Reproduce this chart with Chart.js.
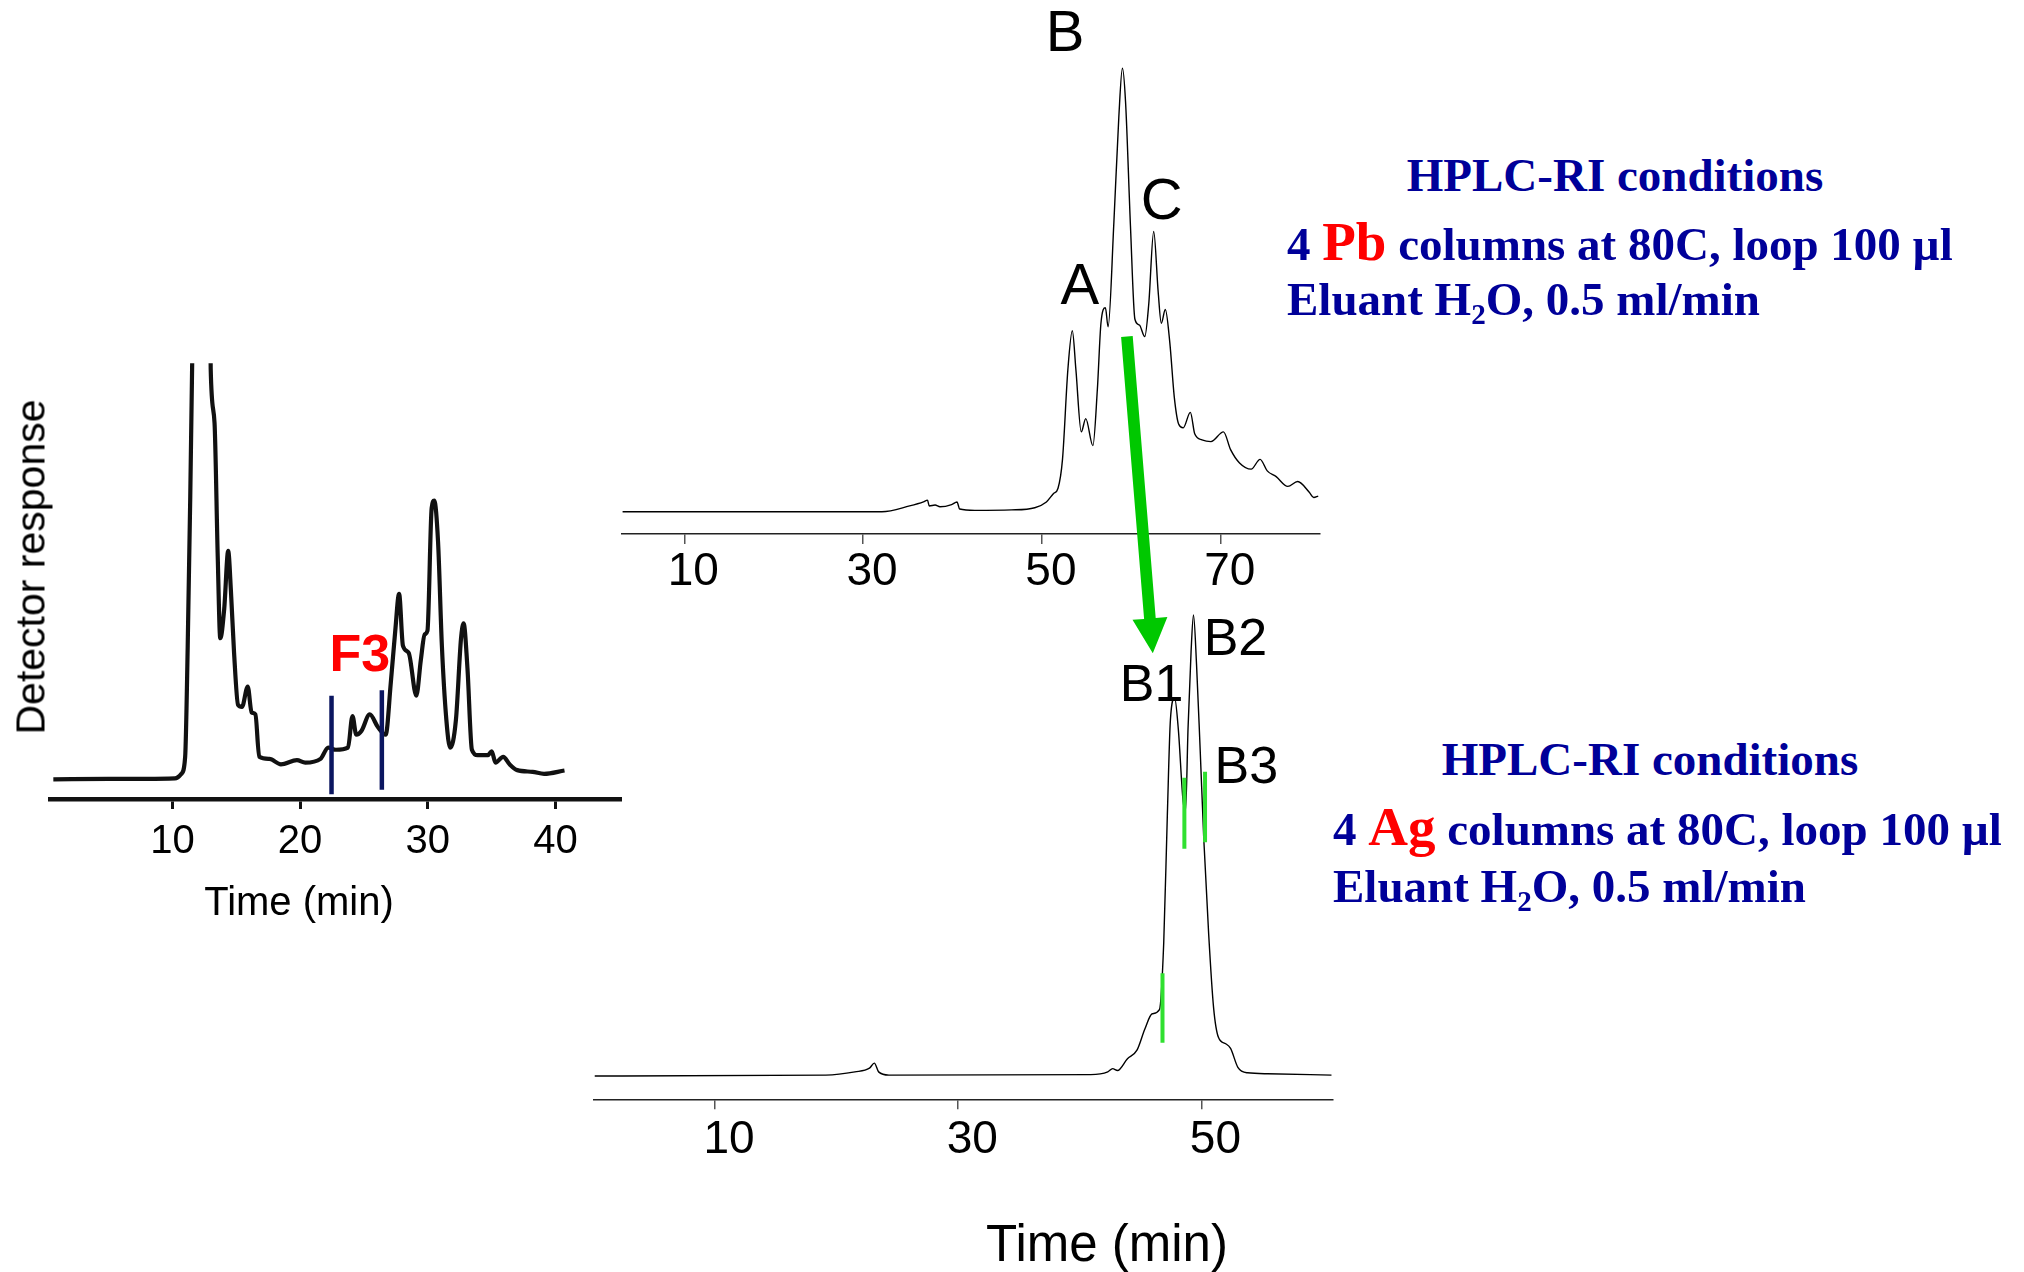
<!DOCTYPE html>
<html>
<head>
<meta charset="utf-8">
<title>HPLC-RI fractionation of F3</title>
<script src="https://cdn.jsdelivr.net/npm/chart.js@4.4.1/dist/chart.umd.min.js"></script>
<style>
  html, body { margin: 0; background: #fff; }
  #page { position: relative; width: 2024px; height: 1272px; overflow: hidden; }
  canvas { position: absolute; }
  .caption { position: absolute; font-family: "Liberation Sans", Arial, sans-serif; color: #000; line-height: 1; white-space: nowrap; }
  .cond { position: absolute; font: bold 47px "Liberation Serif", "Times New Roman", serif; color: #000099; line-height: 1; white-space: nowrap; }
  .cond .metal { color: #ff0000; font-size: 55px; line-height: 0; }
  .cond .sub { font-size: 0.62em; position: relative; top: 0.3em; line-height: 0; }
  #transfer { position: absolute; left: 0; top: 0; pointer-events: none; }
</style>
</head>
<body>
<div id="page">
  <canvas id="fracChart" width="640" height="560" style="left:0;top:330px"></canvas>
  <canvas id="pbChart" width="740" height="600" style="left:600px;top:0"></canvas>
  <canvas id="agChart" width="780" height="620" style="left:570px;top:560px"></canvas>

  <div class="caption" style="left:31px;top:567px;font-size:41px;transform:translate(-50%,-50%) rotate(-90deg)">Detector response</div>
  <div class="caption" style="left:299px;top:881px;font-size:40px;transform:translateX(-50%)">Time (min)</div>
  <div class="caption" style="left:1107px;top:1218px;font-size:51px;transform:translateX(-50%)">Time (min)</div>

  <div class="cond" style="left:1615px;top:152px;transform:translateX(-50%)">HPLC-RI conditions</div>
  <div class="cond" style="left:1287px;top:221px">4 <span class="metal">Pb</span> columns at 80C, loop 100 µl</div>
  <div class="cond" style="left:1287px;top:276px">Eluant H<span class="sub">2</span>O, 0.5 ml/min</div>

  <div class="cond" style="left:1650px;top:736px;transform:translateX(-50%)">HPLC-RI conditions</div>
  <div class="cond" style="left:1333px;top:806px">4 <span class="metal">Ag</span> columns at 80C, loop 100 µl</div>
  <div class="cond" style="left:1333px;top:863px">Eluant H<span class="sub">2</span>O, 0.5 ml/min</div>

  <svg id="transfer" width="2024" height="1272"><polygon id="transferArrow" fill="#00c800"></polygon></svg>
</div>

<script>
// ── Data ────────────────────────────────────────────────────
// Fractionation run (F3 cut between the navy markers)
const fracTime   = [0.68, 5, 8, 10.2, 10.7, 11.0, 11.2, 11.4, 11.55, 11.75, 12.3, 12.85, 13.0, 13.3, 13.55, 13.75,
                    14.06, 14.37, 14.58, 14.83, 15.14, 15.45, 15.9, 16.2, 16.5, 16.8, 17.6, 18.5, 19.75, 20.4, 21.6,
                    22.2, 22.8, 23.75, 24.1, 24.4, 24.8, 25.45, 26.1, 26.7, 27.1, 27.45, 27.75, 28.05, 28.5, 29.1,
                    29.45, 29.75, 29.97, 30.3, 30.5, 30.8, 31.1, 31.45, 31.75, 32.2, 32.6, 32.8, 33.1, 33.45, 33.9,
                    34.7, 35.0, 35.3, 35.9, 36.4, 37.0, 38.2, 39.1, 40.7];
const fracSignal = [0, 0.1, 0.1, 0.2, 1.3, 5.4, 32, 68, 100, 150, 180, 150, 98.7, 85.7, 53.6, 33.9,
                    41, 54.9, 45.5, 30.4, 17.9, 17.4, 22.3, 16.1, 15.6, 5.4, 4.9, 3.6, 4.6, 4, 4.9,
                    7.6, 7.1, 7.6, 15.2, 10.7, 11.6, 15.6, 12.5, 10.7, 23.2, 35.7, 44.6, 32.1, 30.4, 20.1,
                    28.6, 34.8, 35.7, 65.2, 67, 57.1, 32.1, 14.3, 7.6, 14.3, 33.9, 37.5, 26.8, 7.1, 5.8,
                    5.8, 6.7, 4, 5.4, 3.6, 2.2, 1.8, 1.3, 2.1];
const fracTicks   = [10, 20, 30, 40];
const fracCutTime = [22.46, 26.4];
const fracCutLow  = [-3.6, -2.5];
const fracCutHigh = [20.1, 21.4];
const fracLabel   = ['F3'];
const fracLabelAt = [24.67];
const fracLabelLv = [29.5];

// Pb column run of F3
const pbTime   = [3.1, 32.1, 35.2, 36.75, 37.2, 37.4, 38.05, 38.6, 39.9, 40.5, 40.8, 42.5, 46.6, 49.2, 50.5, 51.3,
                  51.8, 52.3, 52.9, 53.4, 53.8, 54.4, 54.9, 55.7, 56.2, 56.6, 57.1, 57.4, 58.05, 58.6, 59.0, 59.35,
                  59.9, 60.4, 60.9, 61.5, 61.95, 62.5, 63.0, 63.35, 63.8, 64.3, 64.8, 65.3, 65.8, 66.6, 67.1, 67.9,
                  68.9, 70.3, 71.1, 72.1, 73.4, 74.4, 75.2, 76.2, 77.5, 78.6, 79.9, 80.4, 80.9];
const pbSignal = [0, 0, 1.3, 2.2, 2.6, 1.3, 1.5, 1.1, 1.6, 2.2, 0.6, 0.3, 0.4, 0.9, 2.2, 4.1,
                  5.3, 11.8, 32, 40.8, 32, 18, 21, 14.9, 27.6, 42.5, 46, 41.7, 65.4, 89, 100, 92.5,
                  64.5, 43.4, 42.1, 39.5, 46.9, 63.2, 49.6, 42.5, 45.6, 38.2, 25.9, 19.7, 18.9, 22.4, 17.5, 16.2,
                  15.8, 18, 14, 11, 9.6, 11.8, 9.2, 7.9, 5.7, 6.8, 4.4, 3.2, 3.5];
const pbTicks     = [10, 30, 50, 70];
const pbPeakNames = ['A', 'B', 'C'];
const pbPeakTime  = [54.25, 52.6, 63.4];
const pbPeakLevel = [50.5, 107.5, 69.6];

// Ag column run of fraction B
const agTime   = [0.1, 19.1, 21.5, 22.7, 23.1, 23.45, 24.3, 40.9, 42.3, 42.7, 43.1, 43.9, 44.7, 45.35, 45.95, 46.55,
                  46.9, 47.2, 47.45, 47.8, 48.1, 48.5, 48.7, 48.9, 49.15, 49.35, 49.6, 49.9, 50.2, 50.6, 51.0, 51.4,
                  52.0, 52.4, 53.0, 53.8, 55.45, 60.7];
const agSignal = [0, 0.2, 0.9, 1.7, 2.8, 0.9, 0.2, 0.3, 0.9, 1.6, 1.2, 3.7, 5.6, 10.2, 13.5, 14.4,
                  28.8, 56.7, 77.2, 82, 75.3, 59.5, 57.7, 75.3, 92, 100, 89.3, 70.7, 51.2, 30.7, 14.9, 8.4,
                  7, 6, 1.9, 0.7, 0.5, 0.2];
const agTicks     = [10, 30, 50];
const agPeakNames = ['B1', 'B2', 'B3'];
const agPeakTime  = [45.9, 52.8, 53.7];
const agPeakLevel = [84.5, 94.4, 66.6];
const agCutTime   = [46.8, 48.6, 50.3];
const agCutLow    = [7.2, 49.3, 50.7];
const agCutHigh   = [22.3, 64.7, 66];

// Fraction B goes from the Pb run (start) onto the Ag run (tip)
const transferFrom = { x: 59.5, y: 39.5 };
const transferTo   = { x: 46.0, y: 91.7 };

// ── Helpers ─────────────────────────────────────────────────
const SANS = '"Liberation Sans", Arial, sans-serif';

const xy = (ts, vs) => ts.map((t, i) => ({ x: t, y: vs[i] }));

const trace = (ts, vs, color, width) => ({
  data: xy(ts, vs), borderColor: color, borderWidth: width,
  pointRadius: 0, cubicInterpolationMode: 'monotone', borderJoinStyle: 'round'
});

const cutMarks = (ts, lo, hi, color, width) => ts.map((t, i) => ({
  data: [{ x: t, y: lo[i] }, { x: t, y: hi[i] }],
  borderColor: color, borderWidth: width, borderCapStyle: 'butt', pointRadius: 0
}));

function timeAxis(min, max, ticks, o) {
  return {
    type: 'linear', min, max,
    afterBuildTicks: ax => { ax.ticks = ticks.map(v => ({ value: v })); },
    afterFit: ax => { ax.height = o.height; },
    grid: { display: true, drawOnChartArea: false, drawTicks: true,
            tickLength: 10, tickWidth: o.tickWidth, lineWidth: o.tickWidth, tickColor: o.tickColor },
    border: { display: true, color: o.axisColor, width: o.axisWidth },
    ticks: { color: '#000', font: { family: SANS, size: o.fontSize, lineHeight: 1 },
             padding: o.pad, labelOffset: o.labelOffset, maxRotation: 0, autoSkip: false,
             callback: v => String(v) }
  };
}

// Peak names written at their (time, level) position
const peakNames = (names, times, levels, font, color) => ({
  id: 'peakNames',
  afterDatasetsDraw(chart) {
    const { ctx, scales: { x, y } } = chart;
    ctx.save();
    ctx.font = font;
    ctx.fillStyle = color;
    ctx.textAlign = 'center';
    ctx.textBaseline = 'middle';
    names.forEach((n, i) => ctx.fillText(n, x.getPixelForValue(times[i]), y.getPixelForValue(levels[i])));
    ctx.restore();
  }
});

function chromatogram(id, datasets, padding, xAxis, yMin, yMax, plugin) {
  return new Chart(document.getElementById(id), {
    type: 'line',
    data: { datasets },
    options: {
      responsive: false, animation: false, devicePixelRatio: 1, events: [],
      layout: { padding },
      plugins: { legend: { display: false }, tooltip: { enabled: false } },
      scales: { x: xAxis, y: { display: false, min: yMin, max: yMax } }
    },
    plugins: [plugin]
  });
}

// ── Charts ──────────────────────────────────────────────────
const fracChart = chromatogram('fracChart',
  [...cutMarks(fracCutTime, fracCutLow, fracCutHigh, '#0b1660', 4.5),
   trace(fracTime, fracSignal, '#111', 4.2)],
  { left: 50.4, right: 19.3, top: 33.3, bottom: 0 },
  timeAxis(0.45, 45.1, fracTicks, { height: 91, fontSize: 40, pad: 13, labelOffset: 0,
    tickWidth: 3, tickColor: '#111', axisColor: '#111', axisWidth: 4.5 }),
  -4.74, 100,
  peakNames(fracLabel, fracLabelAt, fracLabelLv, `bold 52px ${SANS}`, '#ff0000'));

const pbChart = chromatogram('pbChart',
  [trace(pbTime, pbSignal, '#000', 1.4)],
  { left: 21.7, right: 20, top: 59.4, bottom: 0 },
  timeAxis(3.0, 81.1, pbTicks, { height: 66, fontSize: 46, pad: 5, labelOffset: 9,
    tickWidth: 1.5, tickColor: '#555', axisColor: '#222', axisWidth: 1.5 }),
  -5.03, 102,
  peakNames(pbPeakNames, pbPeakTime, pbPeakLevel, `58px ${SANS}`, '#000'));

const agChart = chromatogram('agChart',
  [...cutMarks(agCutTime, agCutLow, agCutHigh, '#30e030', 4),
   trace(agTime, agSignal, '#000', 1.4)],
  { left: 24, right: 17.3, top: 45.8, bottom: 0 },
  timeAxis(0.04, 60.8, agTicks, { height: 80.7, fontSize: 46, pad: 8, labelOffset: 14,
    tickWidth: 1.5, tickColor: '#555', axisColor: '#222', axisWidth: 1.5 }),
  -5.05, 102,
  peakNames(agPeakNames, agPeakTime, agPeakLevel, `52px ${SANS}`, '#000'));

// ── Transfer arrow from the Pb run onto the Ag run ─────────
function pagePoint(chart, pt) {
  return {
    x: chart.canvas.offsetLeft + chart.scales.x.getPixelForValue(pt.x),
    y: chart.canvas.offsetTop + chart.scales.y.getPixelForValue(pt.y)
  };
}

(function drawTransfer() {
  const p0 = pagePoint(pbChart, transferFrom);
  const p1 = pagePoint(agChart, transferTo);
  const len = Math.hypot(p1.x - p0.x, p1.y - p0.y);
  const ux = (p1.x - p0.x) / len, uy = (p1.y - p0.y) / len;
  const nx = -uy, ny = ux;
  const shaft = 5.8, head = 17.5, headLen = 35;
  const bx = p1.x - ux * headLen, by = p1.y - uy * headLen;
  const pts = [
    [p0.x + nx * shaft, p0.y + ny * shaft],
    [bx + nx * shaft, by + ny * shaft],
    [bx + nx * head, by + ny * head],
    [p1.x, p1.y],
    [bx - nx * head, by - ny * head],
    [bx - nx * shaft, by - ny * shaft],
    [p0.x - nx * shaft, p0.y - ny * shaft]
  ];
  document.getElementById('transferArrow')
    .setAttribute('points', pts.map(p => p.map(v => v.toFixed(1)).join(',')).join(' '));
})();
</script>
</body>
</html>
